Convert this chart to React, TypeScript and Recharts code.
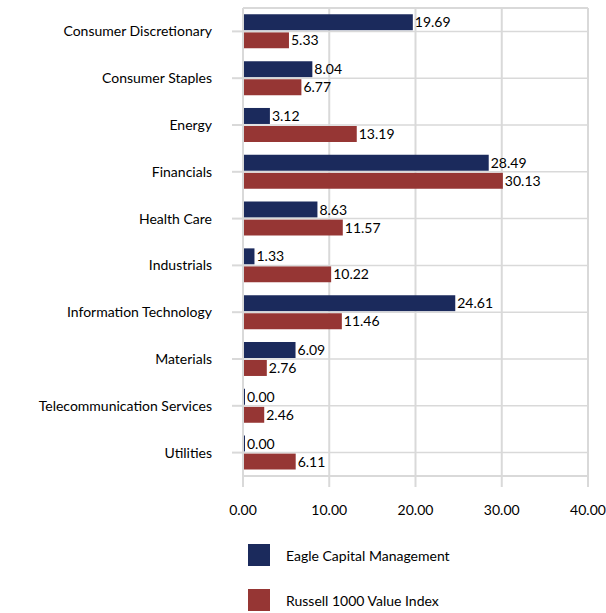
import React from "react";
import {
  BarChart,
  Bar,
  XAxis,
  YAxis,
  CartesianGrid,
  Legend,
  LabelList,
  ReferenceLine,
} from "recharts";

const categories = [
  "Consumer Discretionary",
  "Consumer Staples",
  "Energy",
  "Financials",
  "Health Care",
  "Industrials",
  "Information Technology",
  "Materials",
  "Telecommunication Services",
  "Utilities",
];
const eagle = [19.69, 8.04, 3.12, 28.49, 8.63, 1.33, 24.61, 6.09, 0.0, 0.0];
const russell = [5.33, 6.77, 13.19, 30.13, 11.57, 10.22, 11.46, 2.76, 2.46, 6.11];
const xTicks = [0, 10, 20, 30, 40];

const seriesNames = ["Eagle Capital Management", "Russell 1000 Value Index"];
const COLORS = ["#1b2a5c", "#963634"];
const GRID = "#d9d9d9";

const data = categories.map((name, i) => ({
  name,
  eagle: eagle[i],
  russell: russell[i],
}));

const fmt = (v: any) => Number(v).toFixed(2);

const renderLegend = () => (
  <div
    style={{
      height: 97,
      boxSizing: "border-box",
      paddingTop: 28,
      paddingLeft: 248,
      fontFamily: "Lato",
      fontSize: 14,
    }}
  >
    {seriesNames.map((s, i) => (
      <div
        key={s}
        style={{
          display: "flex",
          alignItems: "center",
          marginTop: i === 0 ? 0 : 23,
          height: 22,
        }}
      >
        <div style={{ width: 22, height: 22, background: COLORS[i] }} />
        <span style={{ marginLeft: 16, color: "#000" }}>{s}</span>
      </div>
    ))}
  </div>
);

const App = () => {
  return (
    <div style={{ position: "absolute", left: 0, top: 0, fontFamily: "Lato" }}>
      <BarChart
        width={606}
        height={613}
        data={data}
        layout="vertical"
        margin={{ top: 8, right: 18, bottom: 0, left: 0 }}
        barCategoryGap="13.6%"
        barGap={2}
      >
        <CartesianGrid stroke={GRID} strokeWidth={2} horizontal={false} />
        {/* horizontal gridlines: top edge and the middle of every category */}
        <ReferenceLine
          y={categories[0]}
          position="start"
          stroke={GRID}
          strokeWidth={2}
        />
        {categories.map((c) => (
          <ReferenceLine key={c} y={c} stroke={GRID} strokeWidth={1.5} />
        ))}
        <XAxis
          type="number"
          domain={[0, 40]}
          ticks={xTicks}
          tickFormatter={fmt}
          height={40}
          tickSize={11}
          tickMargin={18}
          axisLine={{ stroke: GRID, strokeWidth: 2 }}
          tickLine={{ stroke: GRID, strokeWidth: 2 }}
          tick={{ fill: "#000", fontSize: 14 }}
        />
        <YAxis
          type="category"
          dataKey="name"
          width={243}
          tickSize={11}
          tickMargin={20}
          interval={0}
          axisLine={{ stroke: GRID, strokeWidth: 2 }}
          tickLine={{ stroke: GRID, strokeWidth: 2 }}
          tick={{ fill: "#000", fontSize: 14 }}
        />
        <Legend verticalAlign="bottom" align="left" content={renderLegend} />
        <Bar
          dataKey="eagle"
          name={seriesNames[0]}
          fill={COLORS[0]}
          minPointSize={2}
          isAnimationActive={false}
        >
          <LabelList
            dataKey="eagle"
            position="right"
            offset={2}
            fill="#000"
            fontSize={14}
            formatter={fmt}
          />
        </Bar>
        <Bar
          dataKey="russell"
          name={seriesNames[1]}
          fill={COLORS[1]}
          isAnimationActive={false}
        >
          <LabelList
            dataKey="russell"
            position="right"
            offset={2}
            fill="#000"
            fontSize={14}
            formatter={fmt}
          />
        </Bar>
      </BarChart>
    </div>
  );
};

export default App;
